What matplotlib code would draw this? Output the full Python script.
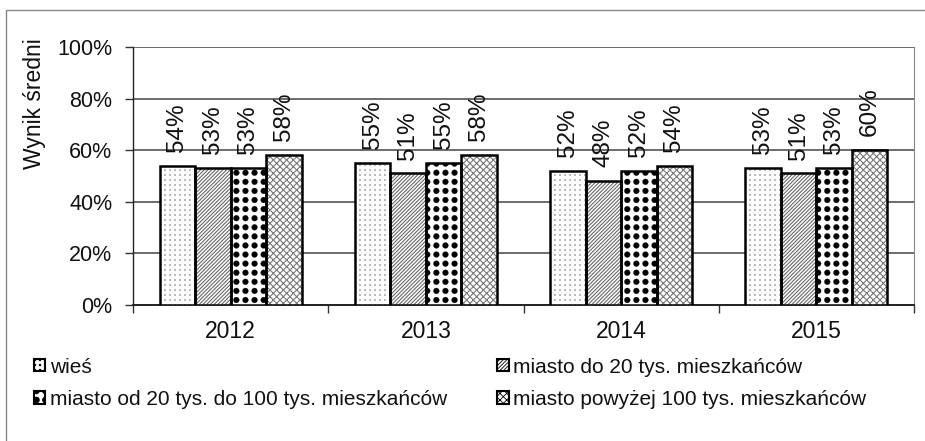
import matplotlib
matplotlib.use("Agg")
import matplotlib.pyplot as plt
import matplotlib.hatch as mhatch
from matplotlib.path import Path
from matplotlib.patches import Patch, Rectangle
import numpy as np

plt.rcParams['font.family'] = ['Liberation Sans', 'DejaVu Sans']

years = ["2012", "2013", "2014", "2015"]
series_names = ["wieś", "miasto do 20 tys. mieszkańców",
                "miasto od 20 tys. do 100 tys. mieszkańców",
                "miasto powyżej 100 tys. mieszkańców"]
wies = [54, 55, 52, 53]
do20 = [53, 51, 48, 51]
od20do100 = [53, 55, 52, 53]
pow100 = [58, 58, 54, 60]
values = [wies, do20, od20do100, pow100]
yticks = [0, 20, 40, 60, 80, 100]


class GridDots(mhatch.HatchPatternBase):
    """Filled dots on an aligned grid: '..' -> big dots, '...' -> fine dots."""
    def __init__(self, hatch, density):
        n = hatch.count('.')
        circ = Path.unit_circle()
        self.cv = circ.vertices
        self.cc = circ.codes
        if n == 0:
            self.rows = 0
            self.num_vertices = 0
            return
        if n == 2:
            self.rows, self.rad = 11, 0.029
        else:
            self.rows, self.rad = 20, 0.008
        self.num_vertices = (self.rows + 1) ** 2 * len(self.cv)

    def set_vertices_and_codes(self, vertices, codes):
        step = 1.0 / self.rows
        m = len(self.cv)
        k = 0
        for i in range(self.rows + 1):
            for j in range(self.rows + 1):
                vertices[k:k + m] = self.cv * self.rad + [j * step, i * step]
                codes[k:k + m] = self.cc
                k += m


mhatch._hatch_types = [t for t in mhatch._hatch_types
                       if t.__name__ != 'SmallFilledCircles'] + [GridDots]

hatches = ['...', '/////////', '..', 'xxxxx']
hatch_colors = ['#9a9a9a', '#6a6a6a', '#000000', '#7a7a7a']
hatch_lws = [0.2, 0.8, 0.2, 0.8]

W, H = 925, 441
fig = plt.figure(figsize=(W/100, H/100), dpi=100)
fig.patch.set_facecolor('white')

# outer frame
fig.add_artist(Rectangle((6/W, -0.1), 1.2, 1 - 10/H + 0.1, transform=fig.transFigure,
                         fill=False, edgecolor='#888888', lw=1.0))

ax = fig.add_axes([133/W, 1 - 305/H, (914-133)/W, (305-47)/H])
ax.set_xlim(-0.5, 3.5)
ax.set_ylim(0, 100)

x = np.arange(len(years))
bw = 0.182
for i, vals in enumerate(values):
    pos = x + (i - 1.5) * bw
    with plt.rc_context({'hatch.linewidth': hatch_lws[i]}):
        bars = ax.bar(pos, vals, width=bw, facecolor='white', edgecolor=hatch_colors[i],
                      hatch=hatches[i], linewidth=0, zorder=3)
    for b in bars:
        if hasattr(b, 'set_hatch_linewidth'):
            b.set_hatch_linewidth(hatch_lws[i])
    ax.bar(pos, vals, width=bw, facecolor='none', edgecolor='black', linewidth=1.8, zorder=4)
    for p, v in zip(pos, vals):
        ax.annotate(f"{v}%", (p, v), xytext=(0, 10), textcoords='offset points',
                    rotation=90, ha='center', va='bottom', fontsize=17.5, color='#111111')

# axes styling
ax.set_yticks(yticks)
ax.set_yticklabels([f"{t}%" for t in yticks])
ax.yaxis.grid(True, color='#444444', lw=1.1, zorder=0)
ax.set_axisbelow(True)
ax.spines['top'].set_visible(False)
ax.spines['right'].set_color('#888888')
ax.spines['right'].set_linewidth(0.8)
ax.spines['left'].set_color('#222222')
ax.spines['left'].set_linewidth(1.0)
ax.spines['bottom'].set_color('#222222')
ax.spines['bottom'].set_linewidth(1.4)

ax.set_xticks(np.arange(-0.5, 4.0, 1.0))
ax.set_xticklabels([])
ax.set_xticks(x, minor=True)
ax.set_xticklabels(years, minor=True)
ax.tick_params(axis='x', which='major', length=6, width=1, color='#333333', direction='out')
ax.tick_params(axis='x', which='minor', length=0, pad=11, labelsize=16.5, labelcolor='#111111')
ax.tick_params(axis='y', length=6, width=1, color='#333333', pad=9, labelsize=15.5,
               labelcolor='#111111')

fig.text(34/W, 1 - 104/H, "Wynik średni", rotation=90, ha='center', va='center',
         fontsize=16.5, color='#111111')

handles = []
for i in [0, 2, 1, 3]:
    handles.append(Patch(facecolor='white', edgecolor='black', hatch=hatches[i], lw=1.5))
labels = [series_names[i] for i in [0, 2, 1, 3]]
with plt.rc_context({'hatch.linewidth': 0.6}):
    leg = fig.legend(handles, labels, ncol=2, loc='upper left',
                     bbox_to_anchor=(34/W, 1 - 362/H, (866-34)/W, 0.01), mode='expand',
                     frameon=False, fontsize=15, handlelength=0.55, handleheight=0.55,
                     handletextpad=0.2, labelspacing=0.65, borderpad=0, borderaxespad=0)
for t in leg.get_texts():
    t.set_color('#111111')

fig.savefig("out.png", dpi=100, facecolor='white')
